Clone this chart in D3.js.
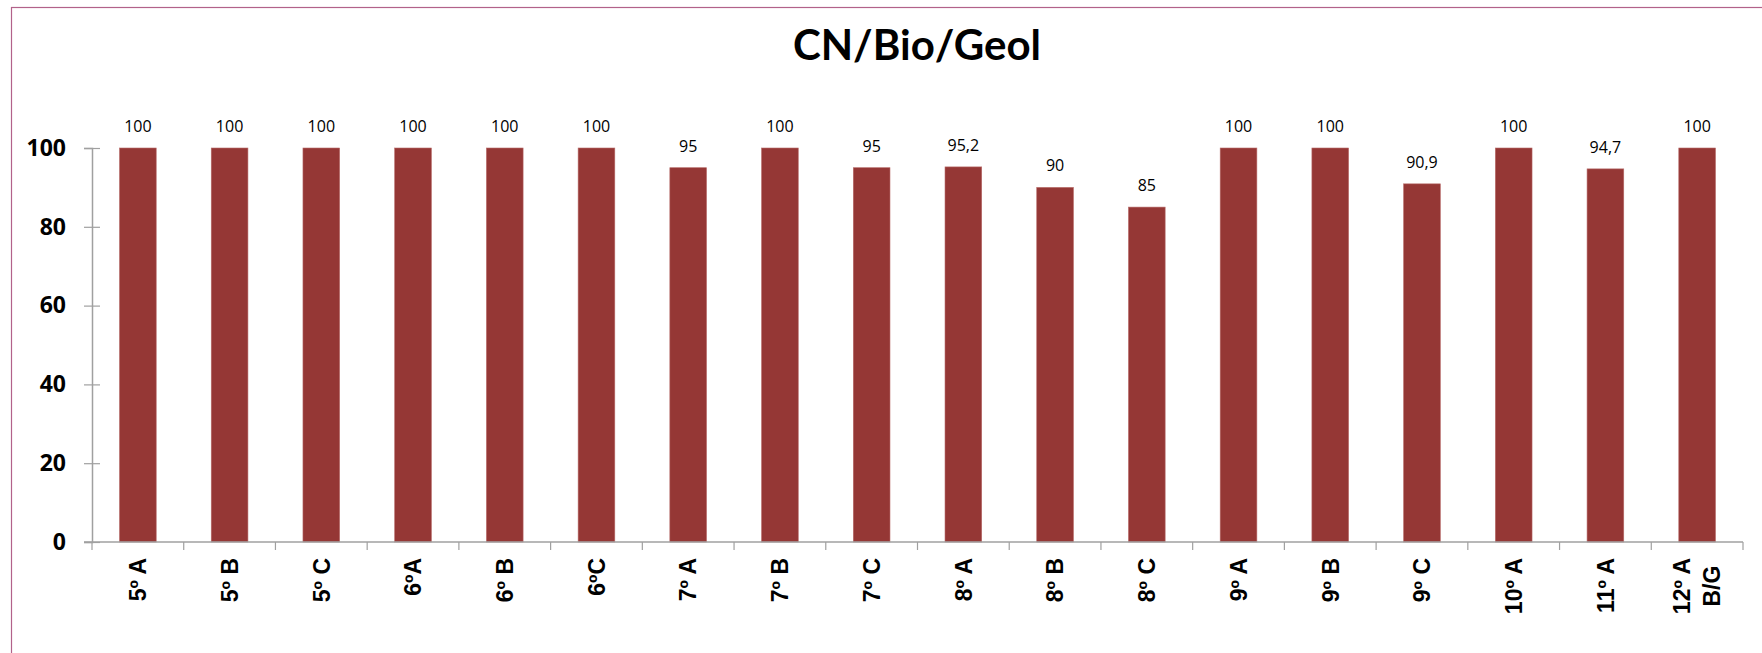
<!DOCTYPE html>
<html>
<head>
<meta charset="utf-8">
<script src="https://cdn.jsdelivr.net/npm/d3@7"></script>
<style>
  body { margin: 0; background: #fff; }
  svg { display: block; font-family: "Open Sans", sans-serif; }
</style>
</head>
<body>
<script>
// dados do gráfico
var categorias = ["5º A", "5º B", "5º C", "6ºA", "6º B", "6ºC", "7º A", "7º B", "7º C",
	"8º A", "8º B", "8º C", "9º A", "9º B", "9º C", "10º A", "11º A", "12º A\nB/G"];
var valores = [100, 100, 100, 100, 100, 100, 95, 100, 95, 95.2, 90, 85, 100, 100, 90.9, 100, 94.7, 100];
var ticksY = [0, 20, 40, 60, 80, 100];
var titulo = "CN/Bio/Geol";

var W = 1762, H = 653;
var margin = {top: 148, left: 92, right: 19, bottom: 111};
var width = W - margin.left - margin.right,
	height = H - margin.top - margin.bottom;

var svg = d3.select("body").append("svg")
	.attr("width", W)
	.attr("height", H);

// moldura (sai fora da imagem à direita e em baixo)
svg.append("rect")
	.attr("x", 11.5).attr("y", 7.5)
	.attr("width", 1900).attr("height", 800)
	.attr("fill", "none")
	.attr("stroke", "#b2628a")
	.attr("stroke-width", 1.2);

svg.append("text")
	.attr("x", 917).attr("y", 60)
	.attr("text-anchor", "middle")
	.attr("font-family", "Lato, sans-serif")
	.attr("font-size", 42)
	.attr("font-weight", "bold")
	.text(titulo);

var g = svg.append("g")
	.attr("transform", "translate(" + margin.left + "," + margin.top + ")");

var x = d3.scaleBand()
	.domain(categorias)
	.range([0, width])
	.paddingInner(0.6)
	.paddingOuter(0.3);

var y = d3.scaleLinear()
	.domain([0, 100])
	.range([height, 0]);

// eixo Y
var eixoY = g.append("g")
	.call(d3.axisLeft(y).tickValues(ticksY).tickSize(8).tickPadding(18));
eixoY.select(".domain").attr("stroke", "#a0a0a0").attr("stroke-width", 1.5);
eixoY.selectAll(".tick line").attr("x1", -8).attr("x2", 8).attr("stroke", "#a0a0a0").attr("stroke-width", 1.2);
eixoY.selectAll(".tick text")
	.attr("font-size", 23)
	.attr("font-weight", "bold")
	.attr("font-family", "'Open Sans', sans-serif")
	.attr("fill", "#000");

// barras
g.selectAll(".barra")
	.data(valores)
	.join("rect")
	.attr("class", "barra")
	.attr("x", function(d, i) { return x(categorias[i]); })
	.attr("y", function(d) { return y(d); })
	.attr("width", x.bandwidth())
	.attr("height", function(d) { return height - y(d); })
	.attr("fill", "#953735")
	.attr("stroke", "#b76a68")
	.attr("stroke-width", 0.6);

// rótulos dos valores
g.selectAll(".rotulo")
	.data(valores)
	.join("text")
	.attr("class", "rotulo")
	.attr("x", function(d, i) { return x(categorias[i]) + x.bandwidth() / 2; })
	.attr("y", function(d) { return y(d) - 16; })
	.attr("text-anchor", "middle")
	.attr("font-size", 16)
	.attr("fill", "#000")
	.text(function(d) { return String(d).replace(".", ","); });

// eixo X: linha e marcas nas fronteiras das categorias
var eixoX = g.append("g")
	.attr("transform", "translate(0," + height + ")");
eixoX.append("line")
	.attr("x1", -8).attr("x2", width)
	.attr("stroke", "#a0a0a0").attr("stroke-width", 1.5);
eixoX.selectAll(".marca")
	.data(d3.range(categorias.length + 1))
	.join("line")
	.attr("class", "marca")
	.attr("x1", function(i) { return i * x.step(); })
	.attr("x2", function(i) { return i * x.step(); })
	.attr("y1", 0).attr("y2", 8)
	.attr("stroke", "#a0a0a0").attr("stroke-width", 1.2);

var rotX = eixoX.selectAll(".cat")
	.data(categorias)
	.join("g")
	.attr("class", "cat")
	.attr("transform", function(d) { return "translate(" + (x(d) + x.bandwidth() / 2) + ",0) rotate(-90)"; });

rotX.each(function(d) {
	var linhas = d.split("\n");
	var t = d3.select(this).append("text")
		.attr("font-family", "'Liberation Sans', Arial, sans-serif")
		.attr("font-size", 23)
		.attr("font-weight", "bold")
		.attr("fill", "#000");
	if (linhas.length == 1) {
		t.attr("text-anchor", "end").attr("x", -16).attr("dy", "0.36em").text(d);
	} else {
		var esp = 30;
		linhas.forEach(function(l, k) {
			t.append("tspan")
				.attr("y", (k - (linhas.length - 1) / 2) * esp)
				.attr("dy", "0.36em")
				.text(l);
		});
		var L = d3.max(t.selectAll("tspan").nodes(), function(n) { return n.getComputedTextLength(); });
		t.attr("text-anchor", "middle");
		t.selectAll("tspan").attr("x", -16 - L / 2);
	}
});
</script>
</body>
</html>
